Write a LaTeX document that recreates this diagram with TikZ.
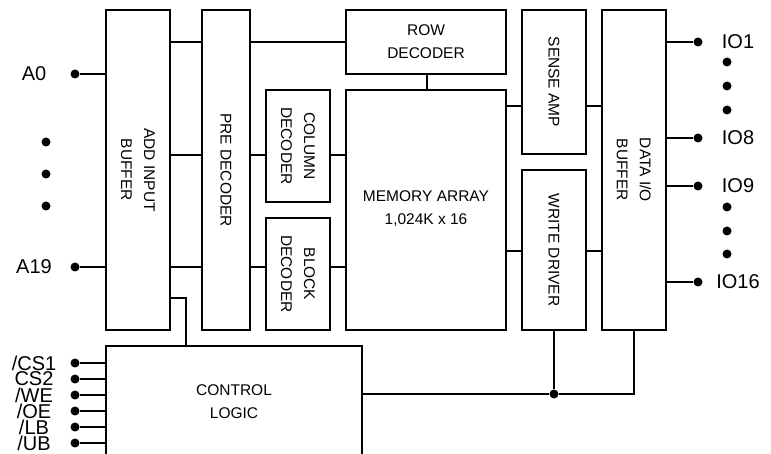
\documentclass[tikz,border=0pt]{standalone}
\usepackage{fontspec}
\setmainfont{Liberation Sans}
\begin{document}
\begin{tikzpicture}[x=1pt,y=-1pt,
  blk/.style={draw,line width=1.8pt,inner sep=0pt,outer sep=0pt},
  txt/.style={font=\fontsize{15.5}{23}\selectfont,align=center,inner sep=0pt},
  lbl/.style={font=\fontsize{20}{20}\selectfont,inner sep=0pt,text depth=0pt},
  dot/.style={circle,fill,inner sep=0pt,minimum size=9pt},
  wire/.style={line width=1.8pt}]
\useasboundingbox (0,0) rectangle (771,454);
\clip (0,0) rectangle (771,454);
% boxes
\node[blk,minimum width=64pt,minimum height=320pt] (add) at (138,170) {};
\node[blk,minimum width=48pt,minimum height=320pt] (pre) at (226,170) {};
\node[blk,minimum width=160pt,minimum height=64pt] (row) at (426,42) {};
\node[blk,minimum width=160pt,minimum height=240pt] (mem) at (426,210) {};
\node[blk,minimum width=64pt,minimum height=112pt] (col) at (298,146) {};
\node[blk,minimum width=64pt,minimum height=112pt] (blkd) at (298,274) {};
\node[blk,minimum width=64pt,minimum height=144pt] (sense) at (554,82) {};
\node[blk,minimum width=64pt,minimum height=160pt] (write) at (554,250) {};
\node[blk,minimum width=64pt,minimum height=320pt] (data) at (634,170) {};
\node[blk,minimum width=256pt,minimum height=124pt] (ctrl) at (234,408) {};
% texts
\node[txt,rotate=-90] (addT) at (add.center) {ADD INPUT\\BUFFER};
\node[txt,rotate=-90] (preT) at (pre.center) {PRE DECODER};
\node[txt] (rowT) at (row.center) {ROW\\DECODER};
\node[txt] (memT) at (426,209) {MEMORY ARRAY\\1,024K x 16};
\node[txt,rotate=-90] (colT) at (col.center) {COLUMN\\DECODER};
\node[txt,rotate=-90] (blkT) at (blkd.center) {BLOCK\\DECODER};
\node[txt,rotate=-90] (senseT) at (sense.center) {SENSE AMP};
\node[txt,rotate=-90] (writeT) at (write.center) {WRITE DRIVER};
\node[txt,rotate=-90] (dataT) at (data.center) {DATA I/O\\BUFFER};
\node[txt] (ctrlT) at (234,402) {CONTROL\\LOGIC};
% address inputs
\node[dot] (a0d) at (75,74) {};
\node[dot] (a19d) at (75,267) {};
\node[lbl] (a0) at (34,74) {A0};
\node[lbl] (a19) at (34,267) {A19};
\node[dot] (ad1) at (46,142) {};
\node[dot] (ad2) at (46,174) {};
\node[dot] (ad3) at (46,206) {};
\draw[wire] (a0d) -- (add.west |- a0d);
\draw[wire] (a19d) -- (add.west |- a19d);
% add -> pre
\foreach \y in {42,155,267} \draw[wire] (add.east |- 0,\y) -- (pre.west |- 0,\y);
\draw[wire] (pre.east |- row.west) -- (row.west);
\draw[wire] (pre.east |- 0,155) -- (col.west |- 0,155);
\draw[wire] (col.east |- 0,155) -- (mem.west |- 0,155);
\draw[wire] (pre.east |- 0,267) -- (blkd.west |- 0,267);
\draw[wire] (blkd.east |- 0,267) -- (mem.west |- 0,267);
\draw[wire] (row.south -| 427,0) -- (mem.north -| 427,0);
\draw[wire] (mem.east |- 0,106) -- (sense.west |- 0,106);
\draw[wire] (sense.east |- 0,106) -- (data.west |- 0,106);
\draw[wire] (mem.east |- 0,251) -- (write.west |- 0,251);
\draw[wire] (write.east |- 0,251) -- (data.west |- 0,251);
% IO outputs
\node[dot] (io1d) at (698,42) {};
\node[dot] (io8d) at (698,138) {};
\node[dot] (io9d) at (698,186) {};
\node[dot] (io16d) at (698,282) {};
\node[lbl] (io1) at (738,42) {IO1};
\node[lbl] (io8) at (738,138) {IO8};
\node[lbl] (io9) at (738,186) {IO9};
\node[lbl] (io16) at (738,282) {IO16};
\draw[wire] (data.east |- io1d) -- (io1d);
\draw[wire] (data.east |- io8d) -- (io8d);
\draw[wire] (data.east |- io9d) -- (io9d);
\draw[wire] (data.east |- io16d) -- (io16d);
\node[dot] (iod1) at (727,62) {};
\node[dot] (iod2) at (727,86) {};
\node[dot] (iod3) at (727,110) {};
\node[dot] (iod4) at (727,207) {};
\node[dot] (iod5) at (727,231) {};
\node[dot] (iod6) at (727,254) {};
% control
\draw[wire] (add.east |- 0,298) -| (ctrl.north -| 186,0);
\node[dot] (jn) at (write.south |- 0,394) {};
\draw[wire] (ctrl.east |- jn) -- (jn) -- (data.south |- jn) -- (data.south);
\draw[wire] (write.south) -- (jn);
\foreach \y/\t/\n in {363/{/CS1}/c1,379/CS2/c2,395/{/WE}/c3,411/{/OE}/c4,427/{/LB}/c5,443/{/UB}/c6}{
  \node[dot] (\n d) at (75,\y) {};
  \node[lbl] (\n) at (34,\y) {\t};
  \draw[wire] (\n d) -- (ctrl.west |- \n d);
}
\end{tikzpicture}
\end{document}
